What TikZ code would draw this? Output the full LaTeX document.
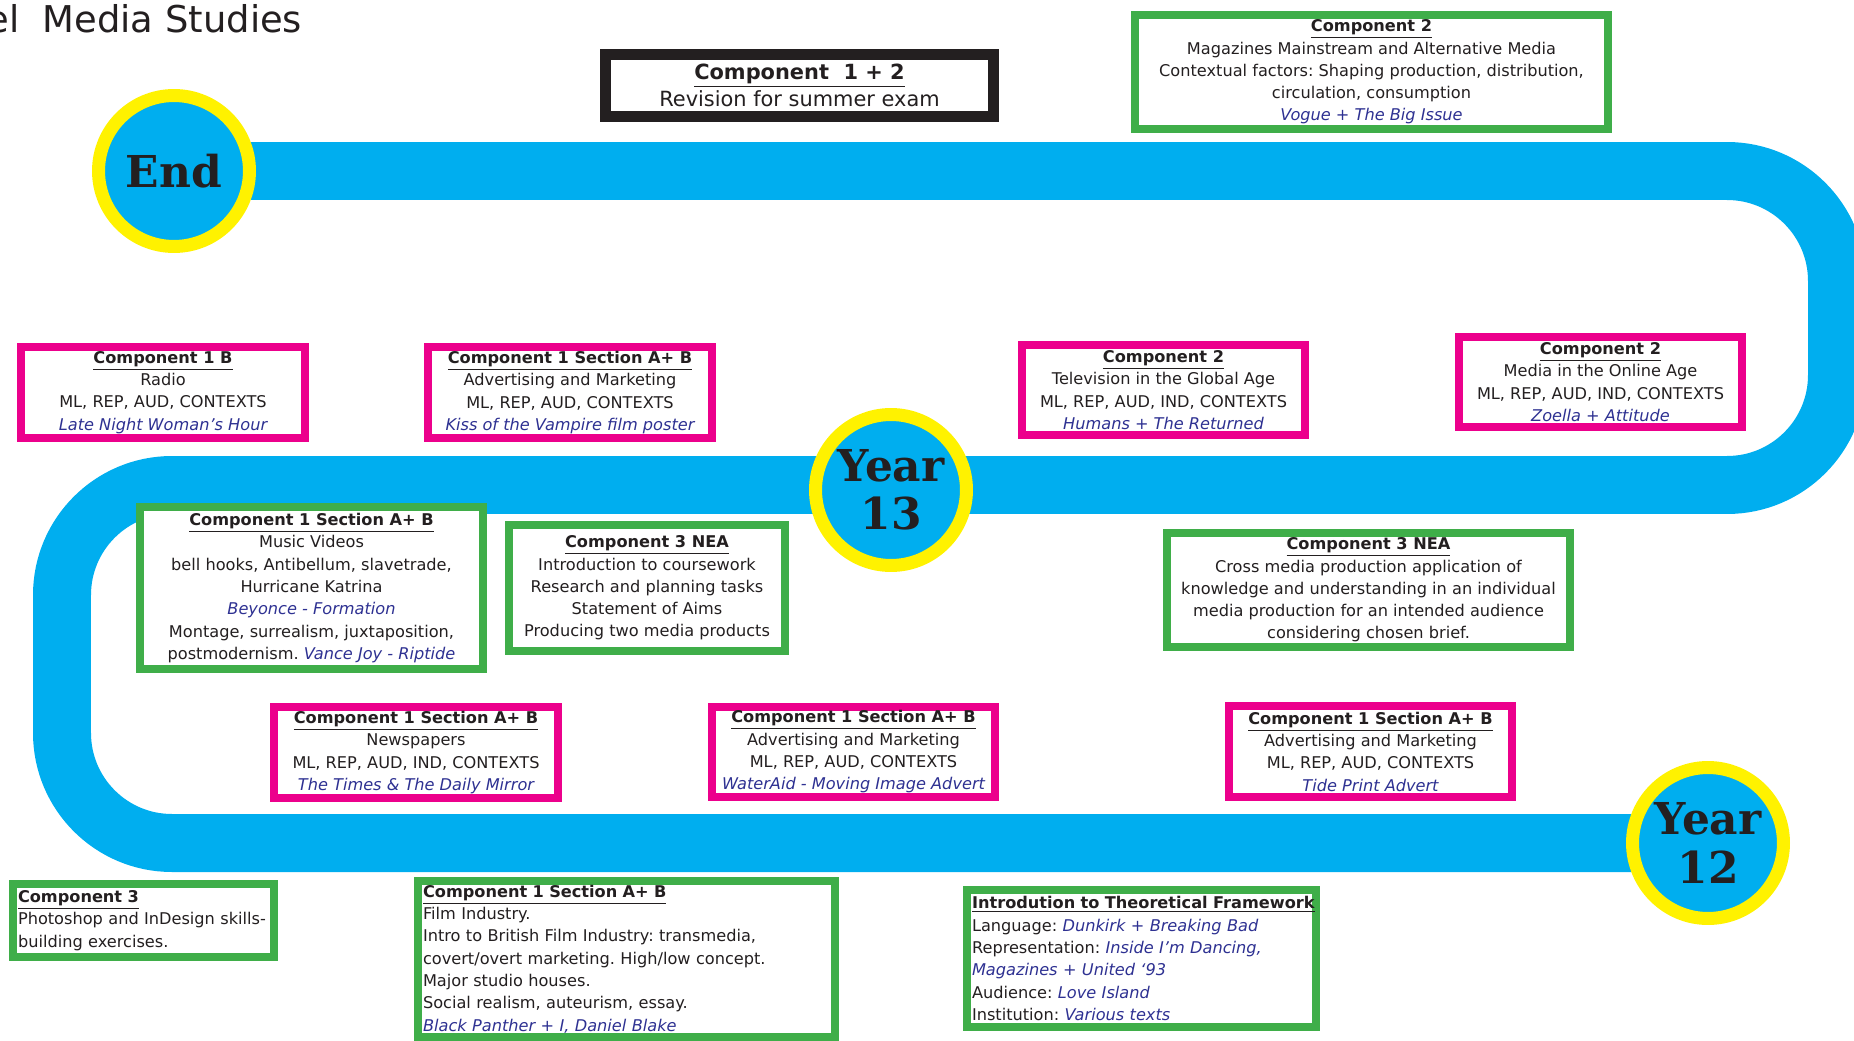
\documentclass[tikz,border=0pt]{standalone}
\usepackage{fontspec}
\setmainfont{DejaVu Sans}
\newfontfamily\yearfont{DejaVu Serif}
\usetikzlibrary{backgrounds}
\definecolor{pathblue}{HTML}{00AEEF}
\definecolor{ringyellow}{HTML}{FFF200}
\definecolor{boxpink}{HTML}{EC008C}
\definecolor{boxgreen}{HTML}{3FAE49}
\definecolor{ink}{HTML}{231F20}
\definecolor{textblue}{HTML}{2E3192}
\newcommand{\comphead}[1]{\underline{\textbf{#1}}}
\newcommand{\mtext}[1]{\textcolor{textblue}{\itshape #1}}
\newcommand{\boxsize}{\fontsize{9.2}{12.7}\selectfont}
\frenchspacing

\begin{document}
\begin{tikzpicture}[x=0.02cm, y=-0.02cm,
	card/.style={draw, fill=white, line width=0.16cm, inner sep=0pt, align=center, font=\boxsize, text=ink},
	pinkcard/.style={card, draw=boxpink},
	greencard/.style={card, draw=boxgreen},
	leftcard/.style={greencard, align=left, inner xsep=0.1cm},
	year/.style={circle, draw=ringyellow, fill=pathblue, line width=0.26cm, minimum size=3.02cm, inner sep=0pt, align=center, text=ink, font=\yearfont\bfseries\fontsize{25}{27.5}\selectfont}]
	\useasboundingbox (0,0) rectangle (1854,1041);
	\node[anchor=base west, inner sep=0pt, text=ink, font=\fontsize{21}{25}\selectfont] (Title) at (-14,32) {el~~Media Studies};

	\node[year] (End) at (174,171) {End};
	\node[year] (Yr13) at (891,490) {Year\\13};
	\node[year] (Yr12) at (1708,843) {Year\\12};
	\begin{pgfonlayer}{background}
		\draw[pathblue, line width=1.16cm, rounded corners=2.2cm] (End.center) -- (1837,171) -- (1837,485) -- (62,485) -- (62,843) -- (Yr12.center);
	\end{pgfonlayer}

	\node[draw=ink, fill=white, line width=0.22cm, minimum width=7.76cm, minimum height=1.24cm, inner sep=0pt, align=center, text=ink, font=\fontsize{11.9}{15.4}\selectfont] (Revision) at (799.5,85.5) {\comphead{Component~~1 + 2}\\Revision for summer exam};
	\node[greencard, minimum width=9.46cm, minimum height=2.28cm] (Mags) at (1371.5,72) {\comphead{Component 2}\\Magazines Mainstream and Alternative Media\\Contextual factors: Shaping production, distribution,\\circulation, consumption\\\mtext{Vogue + The Big Issue}};

	\node[pinkcard, minimum width=5.68cm, minimum height=1.82cm] (Radio) at (163,392.5) {\comphead{Component 1 B}\\Radio\\ML, REP, AUD, CONTEXTS\\\mtext{Late Night Woman’s Hour}};
	\node[pinkcard, minimum width=5.68cm, minimum height=1.82cm] (Kiss) at (570,392.5) {\comphead{Component 1 Section A+ B}\\Advertising and Marketing\\ML, REP, AUD, CONTEXTS\\\mtext{Kiss of the Vampire film poster}};
	\node[pinkcard, minimum width=5.66cm, minimum height=1.80cm] (TV) at (1163.5,390) {\comphead{Component 2}\\Television in the Global Age\\ML, REP, AUD, IND, CONTEXTS\\\mtext{Humans + The Returned}};
	\node[pinkcard, minimum width=5.66cm, minimum height=1.80cm] (Online) at (1600.5,382) {\comphead{Component 2}\\Media in the Online Age\\ML, REP, AUD, IND, CONTEXTS\\\mtext{Zoella + Attitude}};

	\node[greencard, minimum width=6.86cm, minimum height=3.24cm] (Music) at (311.5,588) {\comphead{Component 1 Section A+ B}\\Music Videos\\bell hooks, Antibellum, slavetrade,\\Hurricane Katrina\\\mtext{Beyonce - Formation}\\Montage, surrealism, juxtaposition,\\postmodernism. \mtext{Vance Joy - Riptide}};
	\node[greencard, minimum width=5.52cm, minimum height=2.52cm] (NEAintro) at (647,588) {\comphead{Component 3 NEA}\\Introduction to coursework\\Research and planning tasks\\Statement of Aims\\Producing two media products};
	\node[greencard, minimum width=8.06cm, minimum height=2.28cm] (NEAprod) at (1368.5,590) {\comphead{Component 3 NEA}\\Cross media production application of\\knowledge and understanding in an individual\\media production for an intended audience\\considering chosen brief.};

	\node[pinkcard, minimum width=5.68cm, minimum height=1.82cm] (Papers) at (416,752.5) {\comphead{Component 1 Section A+ B}\\Newspapers\\ML, REP, AUD, IND, CONTEXTS\\\mtext{The Times \& The Daily Mirror}};
	\node[pinkcard, minimum width=5.66cm, minimum height=1.80cm] (WaterAid) at (853.5,752) {\comphead{Component 1 Section A+ B}\\Advertising and Marketing\\ML, REP, AUD, CONTEXTS\\\mtext{WaterAid - Moving Image Advert}};
	\node[pinkcard, minimum width=5.66cm, minimum height=1.82cm] (Tide) at (1370.5,751.5) {\comphead{Component 1 Section A+ B}\\Advertising and Marketing\\ML, REP, AUD, CONTEXTS\\\mtext{Tide Print Advert}};

	\node[leftcard, text width=5.02cm, minimum height=1.46cm] (Skills) at (143.5,920.5) {\comphead{Component 3}\\Photoshop and InDesign skills-\\building exercises.};
	\node[leftcard, text width=8.14cm, minimum height=3.12cm] (Film) at (626.5,959) {\comphead{Component 1 Section A+ B}\\Film Industry.\\Intro to British Film Industry: transmedia,\\covert/overt marketing. High/low concept.\\Major studio houses.\\Social realism, auteurism, essay.\\\mtext{Black Panther + I, Daniel Blake}};
	\node[leftcard, text width=6.78cm, minimum height=2.74cm] (Theory) at (1141.5,958.5) {\comphead{Introdution to Theoretical Framework}\\Language: \mtext{Dunkirk + Breaking Bad}\\Representation: \mtext{Inside I’m Dancing,}\\\mtext{Magazines + United ‘93}\\Audience: \mtext{Love Island}\\Institution: \mtext{Various texts}};
\end{tikzpicture}
\end{document}
